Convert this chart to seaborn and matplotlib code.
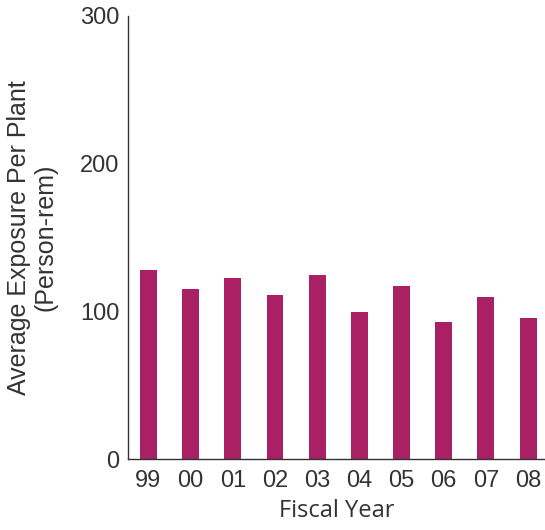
import matplotlib
matplotlib.use("Agg")
import matplotlib.pyplot as plt
import seaborn as sns
import pandas as pd

years = ["99", "00", "01", "02", "03", "04", "05", "06", "07", "08"]
exposure = [128, 115, 122.5, 111, 124.5, 99.5, 117, 92.8, 109.7, 95.5]

sns.set_theme(style="white")
plt.rcParams['font.family'] = ['Liberation Sans', 'DejaVu Sans']

df = pd.DataFrame({"year": years, "exposure": exposure})

fig = plt.figure(figsize=(5.45, 5.30), dpi=100)
ax = fig.add_axes([127.7/545, 1 - 459/530, (545 - 127.7)/545, (459 - 16)/530])

sns.barplot(data=df, x="year", y="exposure", color="#A92065", width=0.4,
            saturation=1, linewidth=0, ax=ax)

ax.set_ylim(0, 300)
ax.set_xlim(-0.49, 9.4)
ax.set_yticks([0, 100, 200, 300])
ax.tick_params(axis="both", length=0, labelsize=17, labelcolor="#333333")
ax.tick_params(axis="x", pad=8)
ax.tick_params(axis="y", pad=6)

for s in ["top", "right"]:
    ax.spines[s].set_visible(False)
for s in ["left", "bottom"]:
    ax.spines[s].set_color("#333333")
    ax.spines[s].set_linewidth(1.0)

ax.set_ylabel("Average Exposure Per Plant\n(Person-rem)", fontsize=18,
              color="#333333", linespacing=1.15, labelpad=16)
ax.set_xlabel("Fiscal Year", fontsize=17, color="#333333",
              family=["Open Sans", "DejaVu Sans"], labelpad=5)

fig.savefig("out.png", dpi=100)
